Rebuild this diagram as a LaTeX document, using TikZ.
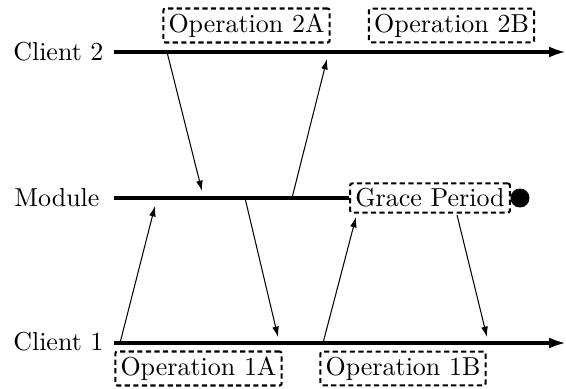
\documentclass[tikz,border=0pt]{standalone}
\usetikzlibrary{arrows.meta}
\begin{document}
\begin{tikzpicture}[x=0.385pt,y=-0.385pt,
  lbl/.style={anchor=east,inner sep=0pt,font=\normalsize},
  timeline/.style={line width=1.2pt},
  msg/.style={line width=0.4pt,-{Latex[length=4pt,width=2.6pt]}},
  opbox/.style={draw,line width=0.8pt,dash pattern=on 2pt off 1.3pt,rounded corners=0.8pt,inner xsep=2pt,inner ysep=2pt}]
\useasboundingbox (0,0) rectangle (566,388);
% labels
\node[lbl] (lc2) at (104,52) {Client 2};
\node[lbl] (lm) at (100,198) {Module};
\node[lbl] (lc1) at (104,342) {Client 1};
% operation boxes
\node[opbox] (op2a) at (246.5,25.5) {Operation 2A};
\node[opbox] (op2b) at (451.5,25.5) {Operation 2B};
\node[opbox] (op1a) at (198.5,368.5) {Operation 1A};
\node[opbox] (op1b) at (403,368.5) {Operation 1B};
\node[opbox] (gp) at (430,198) {Grace Period};
\node[circle,fill=black,inner sep=0pt,minimum size=7.3pt] (dot) at (520,198) {};
% timelines
\coordinate (c2s) at (114,52);
\coordinate (c2e) at (566,52);
\coordinate (ms) at (114,198);
\coordinate (c1s) at (114,343);
\coordinate (c1e) at (566,343);
\draw[timeline,-{Latex[length=6.5pt,width=4.2pt]}] (c2s) -- (c2e);
\draw[timeline,-{Latex[length=6.5pt,width=4.2pt]}] (c1s) -- (c1e);
\draw[timeline] (ms) -- (gp.west);
% messages
\coordinate (a1s) at (167,52);  \coordinate (a1e) at (202,191);
\coordinate (a2s) at (292,198); \coordinate (a2e) at (327,59);
\coordinate (a3s) at (120,343); \coordinate (a3e) at (155,206);
\coordinate (a4s) at (245,198); \coordinate (a4e) at (278,337);
\coordinate (a5s) at (323,343); \coordinate (a5e) at (356,217);
\coordinate (a6s) at (457,215); \coordinate (a6e) at (487,337);
\draw[msg] (a1s) -- (a1e);
\draw[msg] (a2s) -- (a2e);
\draw[msg] (a3s) -- (a3e);
\draw[msg] (a4s) -- (a4e);
\draw[msg] (a5s) -- (a5e);
\draw[msg] (a6s) -- (a6e);
\end{tikzpicture}
\end{document}
